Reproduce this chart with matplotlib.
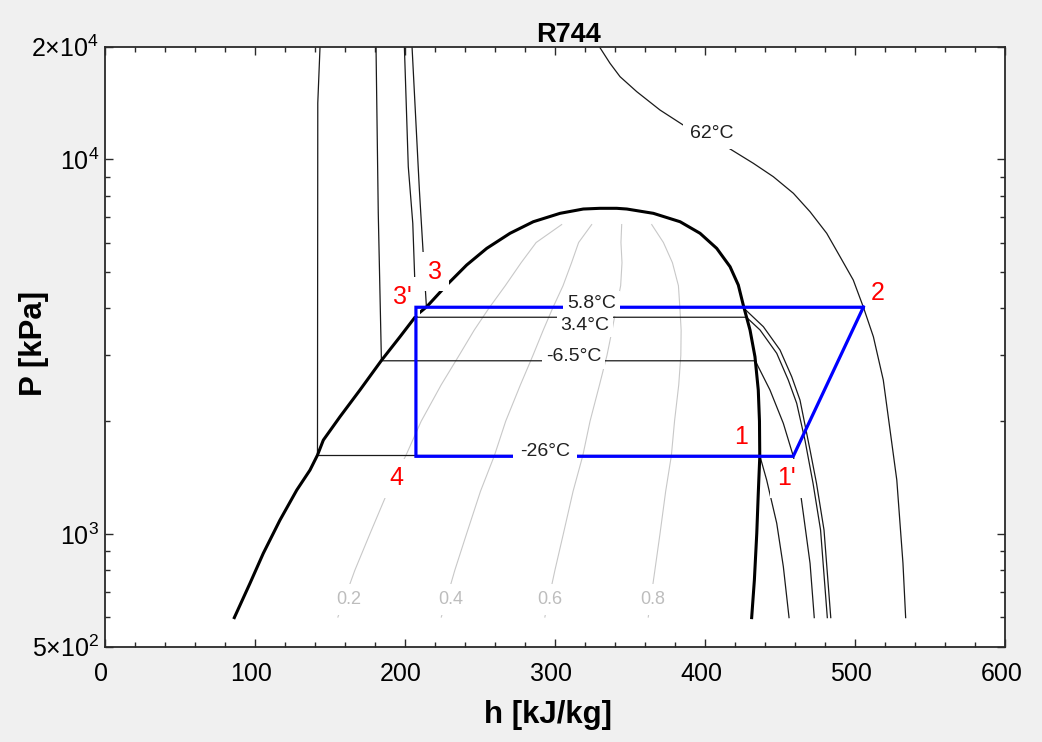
import matplotlib
matplotlib.use('Agg')
import matplotlib.pyplot as plt
from matplotlib.ticker import FixedLocator, NullFormatter
from matplotlib.transforms import ScaledTranslation

plt.rcParams['font.family'] = ['Liberation Sans', 'DejaVu Sans']
plt.rcParams['mathtext.fontset'] = 'custom'
plt.rcParams['mathtext.rm'] = 'Liberation Sans'
plt.rcParams['mathtext.it'] = 'Liberation Sans:italic'
plt.rcParams['mathtext.bf'] = 'Liberation Sans:bold'

# ---------------- data (h in kJ/kg, P in kPa) ----------------
dome_h = [86.5, 96.9, 105.8, 116.9, 128.1, 136.9, 141.9, 145.8, 156.9, 170.2,
          184.7, 196.9, 208.0, 214.7, 228.0, 241.3, 254.7, 270.2, 285.7, 303.5,
          319.0, 330.0, 341.3, 348.0, 365.7, 383.5, 396.8, 407.9, 416.8, 422.3,
          425.6, 430.1, 433.4, 435.6, 436.4, 436.6, 435.6, 434.6, 433.0, 431.2]
dome_P = [598, 738, 888, 1089, 1310, 1481, 1624, 1781, 2056, 2423,
          2913, 3362, 3842, 4043, 4620, 5225, 5789, 6350, 6818, 7179,
          7372, 7404, 7404, 7372, 7179, 6818, 6350, 5789, 5171, 4620,
          4086, 3504, 2973, 2423, 2000, 1607, 1284, 1004, 753, 598]

# quality lines
q_P = [600, 800, 1000, 1300, 1620, 2000, 2500, 3000, 3500, 4000, 4600, 5300, 6000, 6700]
q02_h = [155.5, 166.8, 176.8, 188.8, 200.8, 211.0, 224.3, 236.3, 246.3, 256.0, 267.0, 277.6, 287.6, 304.6]
q04_h = [224.4, 233.4, 241.2, 250.5, 259.8, 267.3, 277.1, 285.5, 292.3, 298.5, 305.5, 311.2, 315.9, 324.6]
q06_h = [293.4, 300.1, 305.7, 312.2, 318.7, 323.5, 329.8, 334.8, 338.2, 340.9, 343.9, 344.8, 344.1, 344.6]
q08_h = [362.3, 366.7, 370.1, 373.9, 377.7, 379.8, 382.6, 384.0, 384.2, 383.4, 382.4, 378.4, 372.4, 364.6]
q_labels = ['0.2', '0.4', '0.6', '0.8']
q_label_h = [162.9, 230.9, 296.8, 365.0]
q_label_P = 668

# isotherms
t_m26_h = [143.6, 142.1, 141.9, 436.6, 441.2, 447.9, 452.3, 456.1]
t_m26_P = [20000, 14150, 1620, 1620, 1393, 1068, 818, 598]
t_m65_h = [180.9, 182.4, 184.5, 433.6, 443.4, 452.3, 458.9, 463.4, 465.6, 470.1, 472.9]
t_m65_P = [20000, 7194, 2900, 2900, 2423, 1974, 1615, 1315, 1135, 835, 598]
t_34_h = [199.8, 202.4, 205.4, 207.6, 427.7, 436.8, 447.9, 455.6, 461.2, 466.7, 472.1, 477.1, 481.6]
t_34_P = [20000, 9564, 6752, 3790, 3790, 3504, 3036, 2576, 2233, 1781, 1365, 1025, 598]
t_58_h = [204.9, 209.8, 212.2, 214.5, 425.3, 439.0, 450.1, 457.9, 463.4, 470.1, 474.4, 479.4, 483.9]
t_58_P = [20000, 8286, 5730, 4030, 4030, 3576, 3098, 2629, 2278, 1675, 1365, 1025, 598]
t_62_h = [329.7, 336.8, 343.5, 354.6, 370.1, 385.5, 415.4, 432.3, 445.6, 459.0,
          470.1, 481.2, 490.1, 498.9, 505.6, 512.3, 518.9, 527.9, 532.0, 533.8]
t_62_P = [20000, 18060, 16630, 15170, 13550, 12360, 10750, 9765, 8994, 8120,
          7250, 6350, 5499, 4764, 4035, 3362, 2576, 1393, 836, 598]

t_labels = ['5.8°C', '3.4°C', '-6.5°C', '-26°C', '62°C']
t_label_h = [324.6, 320.2, 312.4, 293.5, 404.6]
t_label_P = [4129, 3613, 2973, 1658, 11745]

# cycle 2 -> 3' -> 4 -> 1' -> 2
cyc_h = [505.6, 207.5, 207.5, 458.9, 505.6]
cyc_P = [4030, 4030, 1612, 1612, 4030]

pt_labels = ['2', '3', "3'", '4', '1', "1'"]
pt_h = [514.9, 220.2, 198.7, 194.7, 424.1, 454.6]
pt_P = [4407, 5013, 4299, 1408, 1818, 1408]

x_ticks = [0, 100, 200, 300, 400, 500, 600]
y_ticks = [500, 1000, 10000, 20000]
y_ticklabels = [r'$\mathregular{5{\times}10^2}$', r'$\mathregular{10^3}$',
                r'$\mathregular{10^4}$', r'$\mathregular{2{\times}10^4}$']
y_minor = [600, 700, 800, 900, 2000, 3000, 4000, 5000, 6000, 7000, 8000, 9000]

# ---------------- figure ----------------
fig = plt.figure(figsize=(10.42, 7.42), dpi=100, facecolor='#f0f0f0')
ax = fig.add_axes([0.1003, 0.1284, 0.8642, 0.8087])
ax.set_facecolor('white')
ax.set_yscale('log')
ax.set_xlim(0, 600)
ax.set_ylim(500, 20000)

qcol = '#c8c8c8'
for qh in (q02_h, q04_h, q06_h, q08_h):
    ax.plot(qh, q_P, color=qcol, lw=0.8, zorder=1)
for lab, hx in zip(q_labels, q_label_h):
    ax.text(hx, q_label_P, lab, color='#bdbdbd', fontsize=13, ha='center', va='center',
            zorder=1.5, bbox=dict(boxstyle='square,pad=0.4', fc='white', ec='none'))

iso_col = '#1a1a1a'
for th, tp in ((t_m26_h, t_m26_P), (t_m65_h, t_m65_P), (t_34_h, t_34_P),
               (t_58_h, t_58_P), (t_62_h, t_62_P)):
    ax.plot(th, tp, color=iso_col, lw=0.9, zorder=2)

ax.plot(dome_h, dome_P, color='black', lw=2.2, zorder=3, solid_joinstyle='round')

for lab, hx, px in zip(pt_labels, pt_h, pt_P):
    bb = None if lab in ('2', '1') else dict(boxstyle='square,pad=0.3', fc='white', ec='none')
    ax.text(hx, px, lab, color='#ff0000', fontsize=18, ha='center', va='center',
            zorder=4, bbox=bb)

ax.plot(cyc_h, cyc_P, color='#0000ff', lw=2.3, zorder=5, solid_joinstyle='miter')

for lab, hx, px in zip(t_labels, t_label_h, t_label_P):
    pad = 0.35 if lab in ('-26°C', '62°C') else 0.2
    ax.text(hx, px, lab, color='#202020', fontsize=14, ha='center', va='center',
            zorder=6, bbox=dict(boxstyle='square,pad=%s' % pad, fc='white', ec='none'))

# axes styling
ax.xaxis.set_major_locator(FixedLocator(x_ticks))
ax.xaxis.set_minor_locator(FixedLocator([v for v in range(0, 601, 20) if v % 100]))
ax.yaxis.set_major_locator(FixedLocator(y_ticks))
ax.yaxis.set_minor_locator(FixedLocator(y_minor))
ax.yaxis.set_minor_formatter(NullFormatter())
ax.set_yticklabels(y_ticklabels)
ax.set_xticklabels([str(v) for v in x_ticks])

spine_col = '#2a2a2a'
for s in ax.spines.values():
    s.set_color(spine_col)
    s.set_linewidth(1.3)
ax.tick_params(which='both', direction='in', top=True, right=True, colors=spine_col,
               labelcolor='black', width=1.0)
ax.tick_params(which='major', length=6, labelsize=18)
ax.tick_params(axis='x', which='major', pad=11)
ax.tick_params(axis='y', which='major', pad=4)
ax.tick_params(which='minor', length=3.5)

for lbl in ax.get_xticklabels():
    lbl.set_transform(lbl.get_transform() + ScaledTranslation(-3.5 / 100, 0, fig.dpi_scale_trans))

fig.text(0.5454, 1 - 41.7 / 742, 'R744', fontsize=19.5, fontweight='bold', ha='center', va='baseline')
fig.text(547.5 / 1042, 1 - 723 / 742, 'h [kJ/kg]', fontsize=22.5, fontweight='bold', ha='center', va='baseline')
fig.text(34 / 1042, 1 - 343 / 742, 'P [kPa]', fontsize=22.5, fontweight='bold', ha='center', va='center',
         rotation=90)

fig.savefig('out.png', dpi=100, facecolor=fig.get_facecolor())
